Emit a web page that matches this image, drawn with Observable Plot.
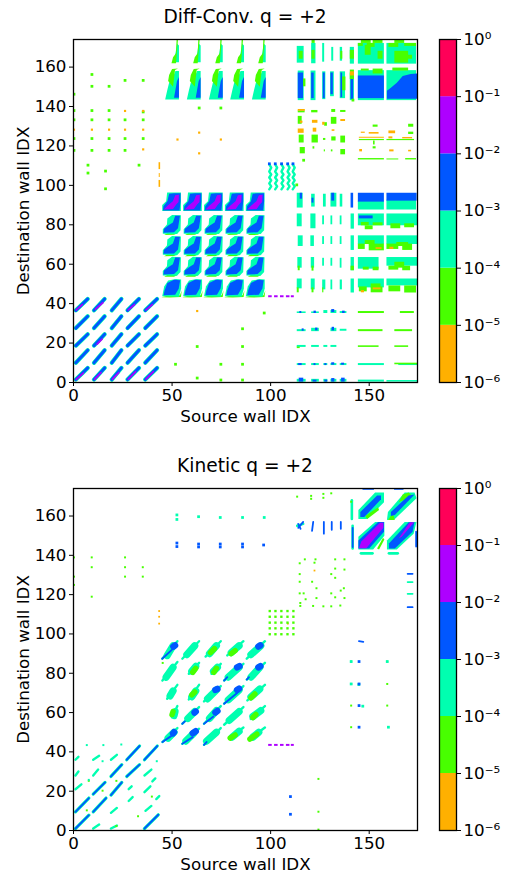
<!DOCTYPE html>
<html><head><meta charset="utf-8">
<script src="https://cdn.jsdelivr.net/npm/d3@7"></script>
<script src="https://cdn.jsdelivr.net/npm/@observablehq/plot@0.6"></script>
<style>
html,body{margin:0;padding:0;background:#fff;width:505px;height:875px;overflow:hidden}
#root{position:relative;width:505px;height:875px;font-family:"DejaVu Sans",sans-serif}
#root svg{position:absolute;background:transparent;overflow:visible}
.t{position:absolute;left:73px;width:344px;text-align:center;font-size:18.6px;color:#000;line-height:22px}
</style></head><body><div id="root"></div>
<script>
// colour bar
const levels=[1e-6,1e-5,1e-4,1e-3,1e-2,1e-1,1];
const levelLabels=["10⁻⁶","10⁻⁵","10⁻⁴","10⁻³","10⁻²","10⁻¹","10⁰"];
const bandColors=["#ffb000","#48ff00","#00ffb0","#0057ff","#ae00ff","#ff0058"];
const xTicks=[0,50,100,150];
const yTicks=[0,20,40,60,80,100,120,140,160];

// ---------- Diff-Conv. values, all in wall-index units ----------
// [x1,y1,x2,y2] boxes of the cyan band
const diffCyanBox=[
[114,143,117,158],[120.5,143,123,158],[126.4,143.5,128,157.6],[130.4,145,132.3,157.6],[135.3,144,138,157.6],[140.4,143,142.5,157],
[113.5,162,117,170.5],[120.8,161.7,123,172],[126.4,162.5,127.4,172],[131,163,132,170],[135.3,163,136.5,170],[140.4,161.5,142.5,170],
[144.5,161.5,157.7,172],[159,161.5,174,172],[144.5,143,157.7,158.2],[159,143,174,158.2],
[113.5,88.5,116.5,96],[120.8,89,122.6,95.5],[126.8,89,128.2,95.5],[130.6,89,133.6,96],[135.3,89,136.6,95.5],
[144.5,87.5,157.7,92],[159,87.5,174,92.5],
[113.5,79,116,85.5],[120.4,78,123,85.5],[126.4,80,127.3,84.5],[130.6,80,131.5,84.5],[135.3,80,136.2,84.5],[140.8,77.8,142.5,85.5],
[144.5,79.5,157.7,85.5],[159,79.5,174.5,85.5],
[114,69,116.5,74.4],[120.4,69,122.2,74.4],[126.4,70,127.3,74],[130.6,70,131.5,74],[135.3,70,136.2,74],[140.8,67,142.5,74.4],
[144.5,70,157.7,74.4],[159,70,174.5,74.4],
[113.8,58,116,63.4],[120.6,58,122.3,63.4],[126.4,59,127.3,63],[130.6,59,131.5,63],[135.3,58,136.2,63],[140.8,56.7,142.5,63.4],
[144.5,57.5,155,63.4],[159,59,174.5,63.4],
[113.5,47.5,116,52.5],[120.6,47,122.6,52.5],[126.4,47,128,52],[130.6,47,131.5,52],[135.3,47,136.4,52],[140.8,45.4,142.5,52.5],
[144.5,48,157.7,52.5],[159,49,174.5,52.5],
[113.5,35,118,35.8],[120.8,35,124.7,35.8],[127,35,129,36.5],[130.6,35,133.6,36.5],[135.3,35,138.7,36],
[113.5,25.8,118,26.8],[120.8,25.8,124.7,27.5],[130.6,25.8,133.6,27.5],[135.3,26,138.7,27],
[113.5,17.8,118,18.8],[120.8,17.8,124.7,18.8],[127,17.8,129,18.8],[130.6,17.8,133.6,18.8],
[113.5,8.6,118,9.6],[120.8,8.6,124.7,9.6],[127,8.6,129,9.6],[130.6,8.6,133.6,9.6],[135.3,8.6,138.7,9.6],[144.5,8.6,157.7,9.6],[165,8.6,174.5,9.6],
[113.5,0.2,118,1.6],[120.8,0.2,124.7,1.6],[127,0.2,129,1.6],[130.6,0.2,133.6,1.6],[135.3,0.2,138.7,1.6],[144.5,0.2,157.7,1.2],[159,0.2,174.5,1]];
const diffGreenBox=[
[116,150,117.9,154],[114.5,164,116.5,168],[121,164,122.6,168.5],[121,172,122.6,174],[136.5,148,138.2,155],[135.6,164,136.6,168],[140.4,164,142.5,168.5],
[140.4,153.7,142.5,158.5],[144.5,170.5,147,172],[149,170,153,172],[146,172,151,173.7],[152,172,157,174],[160,170,165,172],[168,170.5,174,172],[163,172,168,174],
[146,158,150,159],[152,156.5,157,159],[162,158,170,159.5],
[148,166,151,171],[163,162,170,168],[154.5,164,157,168],[166,164,172,166],
[146,79.5,150,81.2],[152,79.5,157,81],[161,78,166,80.5],[168,78.5,173,80.5],[148,77.5,152,79.5],
[144.5,67.5,148,70.2],[150,66.8,157.7,70.2],[159,67.5,165,70.2],[167,67,172,70.2],[148,70,153,72],[164,69,170,71],
[147,57,150,58.5],[152,56.7,155,58.5],[160,57,165,59],[167,56.7,171,59],[163,58,168,61],[140.8,56.7,142.5,59],[114,56.7,115,59],[121,56.5,122,59],
[145,46,149,48.5],[151,45.5,157,48.5],[160,46,166,49],[168,45.4,174,49],[151,48,156,50],[113.5,45.5,114.5,48],[121,45.5,122,48],[126.4,45.5,127,48],
[144.5,35,157.7,36],[165.8,35,172.9,36],[144.5,25.8,157,26.8],[163,25.8,172,26.8],[144.5,17.8,155,18.6],[163,17.8,170,18.6],[163,9,174.5,9.8],[113.5,17.2,115,18],
// scattered block above the right-hand columns
[114,136.8,117.5,137.8],[120.8,136.8,124,138],[131,137,133,138.5],[135.5,137,138.2,138],
[114,131,116,135],[130.8,131,133.6,134.5],[127.4,130,128.8,131.8],[114.5,121.5,117,125.5],[121,121.5,124.2,125.5],[126.8,122.8,128,123.8],[131,122.5,133.2,124.6],[135.6,121.5,138,125],
[115,116,117.6,119.2],[135.6,115.5,138,118.2],[121.5,118.4,122.4,119.6],[127.2,117,127.8,118],[130.8,117,131.6,118],
[144.5,112.9,157.7,113.6],[159,112.9,165,113.4],[168.5,112.9,174,113.6],[152,129.5,154.5,130.6],[152,118.5,153.5,119.6],[170,129.5,172.6,131],[170,125.8,172.6,127],[152.2,120.5,153,122.5],[145,122.7,157.7,123.3],[159,122.7,173,123.3]];
const diffOrangeBox=[
[114,137.6,117.6,138.5],[115,131.5,116.4,132.6],[114,126.4,117,128.6],[121.2,131.5,124,133],[121.6,127,123.4,129],[126.4,130.5,127.6,132],[135.6,132.4,138,133.4],[131.2,127.4,132.6,128.2],
[146,126.4,148,127],[150,126,155,126.8],[145,123.9,157.7,124.4],[145.2,117,146.6,118.2],[160,126.2,163.4,127.6],[160,123.6,162,124.6],[167,123.6,172,124.3],[160.4,117,162.6,118],[170,117,171.5,117.8],
[140.5,155.5,142.5,157.6],[43.4,108,44.2,111.5],[43.4,99,44.2,102.5],[43.5,104,44,106],
[152,47,156,48],[153.5,67.5,156.5,68.4],[160.5,67.5,162.5,68.6],[146,45.5,147.6,46.6]];
const diffBlueBox=[
[114,144,116.7,157],[120.8,144,122.1,157],[126.7,144,127.7,157],[130.6,146,131.8,157],[135.7,144.5,136.5,157],[140.8,143.6,142.1,153.7],
[144.5,144,157.7,155.5],
[115,93,116.2,96],[121,91,122,93.5],[131,92,132.5,96],[140.8,88.5,142.1,96],[144.5,91.5,157.7,96],[159,92,174.3,96],
[114.8,35,115.8,36],[122,35,123.2,36.2],[131,35.5,132.5,37],[136.5,35,137.8,36.2],
[116,26,117,27.2],[122.8,26.2,124,27.6],[131.2,26.2,132.4,28],
[114.2,8.6,116,9.6],[122,8.6,123,9.6],[127.5,8.6,128.5,9.6],[131,8.8,132.5,10],[136,8.8,137.5,9.8],
[114.5,0.2,116.8,2.2],[121.5,0.2,123.5,1.2],[127.5,0.2,129,1.2],[131,0.2,132.6,2],[136,0.2,137.8,2.2],
[145,83,152,84.5]];
// polygons, drawn with the lines mark: flat x,y lists
const diffBigBlue=[[159,144,174.5,144,174.5,156.8,171,156.5,167,155.5,164,152,161,149.5,159,148]];
const blockBColsX=[45,55.6,66.2,76.8,87.4];
const diffLowerCols=[53.5,64.5,75.7,86.5,97.5];
// shape of the wedges above block B, measured from each column's right edge
const wedgeCyan=[-7,143.5,0,143.5,0,158,-1.8,158,-3,155,-5,152,-6,148];
const wedgeGreen=[-5.5,153,-3,150,-2,158.5,-.5,159.3,-3.5,159,-5,156];
const wedgeBlue=[-2.5,144.5,0,144.5,0,155,-1,153];
const upperCyan=[-2.6,162.5,0,162.5,0,171,-1,172,-1.6,168];
const upperGreen=[-3.8,162,-1.5,162,-.5,174,-1.2,174,-1.5,167,-3,165];
// 5x5 tiles of block B: shape measured from each tile's lower-left corner
const tileTopRowY=87, tileOvalRowY=43.7, tileMidRowsY=[54,64.5,75.2];
const ovalCyan=[0,0,8.5,-.2,9.6,4,9.6,8.6,7,8.8,3,8,1,5];
const ovalGreen=[-.4,-.4,4,-.6,9.5,-.3,9.9,3,9,.6,3,.4];
const ovalBlue=[.7,.6,6.6,.8,8.4,4,9.1,8.2,6,8.4,2.6,6.8,1.2,3];
const midCyan=[.3,.3,7.5,.1,9.3,2,9.5,9.6,5,9.8,2.6,8,2.4,5,.3,2.6];
const midGreen=[1,-.4,6,-.3,8,.6,3,.8];
const midBlue=[.6,.8,6,1,8,3,9,9.4,6.6,9.4,5.4,6,3.2,4.6,.9,2.8];
const topCyan=[0,0,9.5,0,9.5,9.4,2.5,9.4,2,5,0,3];
const topBlue=[.4,.3,8.8,.3,9.3,5,9.3,9,6,9,3.5,8.8,2.6,5,.6,2.4];
const topPurple=[.8,.7,5.5,1,7,3.2,8.3,4.6,8.5,8.2,6.6,8,5.4,5,2.8,2.8];
// diagonal streaks of block A: x1,y1,x2,y2
const diffStreaks=[
[1.2,1.5,7.2,7.4],[10.4,1.5,15.8,7.4],[19.4,1.5,24.3,7.4],[27.4,1.5,33.2,7.4],[36.4,1.5,42.4,7.4],
[1.2,10,7.2,16.4],[10.4,10,15.8,16.4],[19.4,10,24.3,16.4],[27.4,10,33.2,16.4],[36.4,10,42.4,16.4],
[1.2,18.7,7.2,24.5],[10.4,18.7,15.8,24.5],[19.4,18.7,24.3,24.5],[27.4,18.7,33.2,24.5],[36.4,18.7,42.4,24.5],
[1.2,27.6,7.2,33.6],[10.4,27.6,15.8,33.6],[19.4,27.6,24.3,33.6],[27.4,27.6,33.2,33.6],[36.4,27.6,42.4,33.6],
[1.2,36.6,7.2,42.4],[10.4,36.6,15.8,42.4],[19.4,36.6,24.3,42.4],[27.4,36.6,33.2,42.4],[36.4,36.6,42.4,42.4]];
const diffStreakPurple=[
[1.4,1.6,5,4.8],[10.8,1.7,14,5],[19.8,1.7,23,5],[27.8,1.7,31.5,5.5],[36.8,1.7,40.5,5.5],
[1.4,36.8,4.5,39.5],[11.2,37.2,15,40.5],[27.8,36.8,31,39.5],[36.8,36.8,40,39.5],[12,19.5,14.5,22]];
const diffDotsGreen=[
[.5,137.7],[.5,133],[.5,123.5],[.5,117.5],[.5,146],[9.6,137.7],[9.6,133],[9.6,123.5],[9.6,117.5],[9.6,156],[9.6,150],
[18.3,137.7],[18.3,133],[18.3,123.5],[18.3,117.5],[18.3,150],[26.4,133],[26.4,123.5],[26.4,117.5],[26.4,153],[35.6,133],[35.6,123.5],[35.6,153],[35.6,137],
[7.6,110],[7.6,106],[16.5,107],[33.5,110],[16.5,98],[64,139],[75,139],[113.5,100],[117,112.5],
[63,2],[75,1],[86,1],[52,9],[75,9],[86,9],[63,18],[86,18],[86,27],[97,35],[142,143]];
const diffDotsOrange=[[.5,128],[9.6,128],[18.3,128],[26.4,128],[35.6,128],[26.4,137.5],[35.6,137.5],[35.6,118],[53,123],[64,126.5],[75,123],[64,116],[63,36]];
// zigzag columns of the small central block
const diffZig=[
[99.3,110.7,100.3,109,99.3,107,100.3,105.5,99.3,104,100.3,102.5,99.3,101,100.3,99.5,99.3,98],
[102.3,110.7,103.3,109,102.3,107,103.3,105.5,102.3,104,103.3,102.5,102.3,101,103.3,99.5,102.3,98],
[105.5,110.7,106.5,109,105.5,107,106.5,105.5,105.5,104,106.5,102.5,105.5,101,106.5,99.5,105.5,98],
[108.6,110.7,109.6,109,108.6,107,109.6,105.5,108.6,104,109.6,102.5,108.6,101,109.6,99.5,108.6,98],
[111.2,110.7,112.2,109,111.2,107,112.2,105.5,111.2,104,112.2,102.5,111.2,101,112.2,99.5,111.2,98]];
const diffZigBlue=[[99.6,110.7],[102.6,110.7],[105.8,110.7],[108.9,110.7],[111.6,110.7]];
const dashes=[[99,100.8],[102,103.8],[105,106.8],[108,109.8],[110.5,112]];

// ---------- Kinetic values ----------
const kinCyanLong=[
[1,1,7.8,7.8],[36,1,43,8],[1,9.5,7.8,16.5],[10,9.5,16.5,16.5],[10,18.5,16,24.5],[19,18,24.5,24.5],[19,27.5,24.5,33.5],[27,27.5,33.5,33.5],[27,36,33.5,43],[36,36,42.5,43]];
const kinCyanShort=[
[10,1,13,3],[19,1,22,2.5],[19,9,22,11.5],[28,15,30,17],[36.5,10,39.5,12.5],[42,16,43.5,17.5],
[1,21,4,23.5],[28,21,29.5,22.5],[36,19.5,39,22.5],[40,25,41.5,26.5],
[1,28,2.5,30],[10,28,12.5,31],[36,28,39.5,31],[1,36,2.5,37.5],[10,36,13,38],[19,36,22,38.5],
[45.1,45,52.7,52.1],[55.2,44.1,63.7,51.8],[66.2,43.6,74.7,52.1],[78.9,46.7,86.2,52.4],[89.6,46.7,97.1,52.4],
[50,57.7,52.7,63.3],[55.2,54.3,63.7,62.8],[66.2,54.3,74.7,63.3],[76.4,53.8,86.2,62.8],[89.9,56.8,97.1,63.3],
[47.5,67,52.7,74.1],[58.5,66.7,63.7,74.1],[66.2,65.7,74.7,73.5],[76.4,64.5,86.2,73.5],[88.2,66.2,97.1,74.1],
[45.1,76.3,52.7,85.7],[58.5,79.7,63.7,85.3],[70,79.7,74.7,84.8],[76.4,76.3,86.2,84.8],[87.9,76.8,97.1,85.3],
[45,87.4,52.7,96.3],[55.2,87.4,63.7,96.3],[67,88.5,74.7,96.3],[78,89.1,86.2,96.3],[87.9,87.4,97.1,96.3]];
const kinCyanFat=[
[48,47,51,50],[57,45.5,61,49.5],[67.5,45.5,72.5,50],[80.5,47.5,84,50.5],[91,47.5,94,50],
[51,58.5,51.5,60.5],[58,57,61.5,60.5],[69,57,72.5,61],[79,56,84,60.5],[91,58,95,61],
[49,68.5,50.5,71],[60,68,62,71],[68,67,72.5,71.5],[78.5,66.5,84,71.5],[90,68,94.5,72],
[47,78,50.5,83],[60,81,62,83.5],[71,81,73,83],[78.5,78,84,83],[90,78,94.5,83],
[47.5,89,50.5,94],[57.5,89.5,61.5,94],[69,90,72.5,94],[80,90.5,84,94],[90,89.5,95,94]];
const kinBlueThin=[
[1,1,7.8,7.8],[36,1,43,8],[1,9.5,7.8,16.5],[10,9.5,16.5,16.5],[10,18.5,16,24.5],[19,18,24.5,24.5],[19,27.5,24.5,33.5],[27,27.5,33.5,33.5],[27,36,33.5,43],[36,36,42.5,43],
[45.1,45,49.5,48],[55.2,44.1,60.5,47.5],[66.2,43.6,67.5,45],[66.2,54.3,71,58],[76.4,64.5,83,70],[55.2,54.3,56.5,55.5],[45,87.4,50,92],[76.4,76.3,78,78],[87.9,76.8,89,78]];
const kinBlueOval=[[50.5,49.4,51,50],[60.5,49.5,62,50.5],[61.4,60,62,60.5],[72,60,73,60.8],[72,71.5,73,72],[83,71.5,84,72.2],[83,83,84.2,83.6],[93.8,83,94.8,83.6],[50.7,93.6,51.5,94.2],[93.8,93.6,94.8,94.2]];
const kinGreenFat=[[89.5,46.5,93,49],[79.5,47,82,48.6],[69.5,90.5,71.5,92.5],[80,90,82,91.5],[50,59,50.5,60.5],[60,69,61.5,70.5],[60.5,80.5,62,82.5],[71.2,80.5,72.5,82.5],[90,67.5,92,69.5],[91,57.5,92.5,59]];
// the four large diagonal tiles as outlines
const kinBigCyan=[
[144.5,143,152,143,157.7,150,157.7,157,153,157,144.5,149.5],
[159,143,164,143,172.5,151,174,157,168,157,159,147.5],
[144.5,158.5,149,158.5,157.5,167,157.5,172,153,172,144.5,163],
[159,158,163,158.5,174,169,173,172,168,172,159.5,162]];
const kinBigGreen=[[149,158.5,155,163,154.5,164.5,148,160],[159.5,158,163,158,162,161.5],[165,167,172,170,170,172,167,171],[154,143.5,157,149,157.7,148,155,143]];
const kinBigBlue=[
[144.5,143.5,150,143.5,157.5,152,157.5,157,154.5,157,144.5,147.5],
[160,143.5,163,143.5,172,152,173,156.8,170,156.8,160,146],
[145.5,159.5,147.5,159.5,156,168.5,156,170.5,154,170.5,145.5,162],
[161,160,163,160.5,173,171,170,170.5,161,162]];
const kinBigPurple=[
[144.8,143.6,148.5,143.6,157.2,154,157.2,156.6,155.5,156.6,146,147],
[165,148.5,166.5,149.5,172.8,156.8,170.6,156.8]];
const kinSmallCyan=[[145.8,141,151.7,141],[160,141,164.5,141],[141.2,158.5,141.2,168],[141.6,143.5,141.6,155],[113.5,155,116.5,156]];
const kinSmallBlue=[[141.6,144.2,141.6,154],[114,156,115.2,153.5],[121,152.5,121.6,157],[127,151,127,157],[131,153,131,157],[135.6,153.5,135.6,157],[147,173.8,152,173.8],[163,173.8,167,173.8],[173.8,144.5,173.8,152],[169.5,130.6,172,130.6],[169.5,113.6,172,113.6],[144.8,96.3,147,96],[114,154,116.5,157]];
const kinCyanSmall2=[[169.5,126.4,172,126.4],[169.5,120.4,172,120.4]];
const kinDotsGreen=[
[.5,138.7],[9.5,138.7],[26.4,138.7],[9.5,133.7],[26.4,133.7],[35.4,133.7],[.5,128.9],[26.4,128.9],[35.4,128.9],[.5,124.7],[9.5,118.7],
[115,135.7],[117.6,137.7],[122.5,136],[123,137.7],[133,137.7],[137.7,137.7],[133,133],[137.7,132.5],[131,130.2],[133,128.3],[115,130.2],[115,126.3],[121.3,126.3],[123.5,123],[137.4,123],[135.8,121.8],[115,120.4],[117,120.4],[131,120.4],[133,118.4],[118,117.4],[123.5,118],[137.7,118],
[127,113.8],[131,113.8],[135.6,114.2],[121.8,114],[115.3,114],[115.3,115.5],[124.5,26],[124.5,9.3],[124.5,.2],[113.7,169.6],[120.8,170],[120.8,168.5],[127,171],[127,169],[131,171.3],[141.1,167],[141.1,85.7],[141.1,74.3],[141.1,63.3],[141.1,52.3],[159.4,74.3],[159.4,63.3],[159.4,85.7],
[8,25],[22,25],[45.5,85],[7,10],[15,20],[22,2],[33,7],[40,17]];
const kinDotsCyan=[[52.7,160.3],[52.7,158],[63.7,159.4],[74.7,159],[86,159],[97,159],[141.1,85.7],[159.4,85.7],[141.1,74.3],[160,52.3],[145,74],[147,63]];
const kinDotsBlue=[[52.7,144.2],[52.7,146],[63.7,144],[63.7,145.5],[74.7,144],[74.7,145.5],[86,144],[86,145.5],[96.7,145],[145.1,85.7],[145.1,74.3],[145.1,63.3],[145.1,52.3],[110.3,17],[110.3,8]];
const kinDotsTiny=[[7,43.2],[15.4,43.2],[24.5,43.5],[8,25.5],[15,35],[42.5,35]];
const kinDotsOrange=[[43.7,111.4],[43.7,108.5],[43.7,105],[122.5,132],[109,105]];
const kinGridX=[99.8,102.7,105.7,108.8,111.8], kinGridY=[111.4,108.5,105.5,102.6,99.6];

const num=l=>{const o=[];for(let i=0;i<l.length;i+=2)o.push([l[i],l[i+1]]);return o;};
function polys(list,color){ // filled outlines through the x and y scales
  const pts=list.flatMap((p,i)=>num(p).map(([x,y])=>({x,y,i})));
  return Plot.line(pts,{x:"x",y:"y",z:"i",fill:color,stroke:"none",clip:true});
}
const shift=(s,dx,dy)=>s.map((v,i)=>i%2?v+dy:v+dx);
const box=(l,c)=>Plot.rect(l,{x1:d=>d[0],y1:d=>d[1],x2:d=>d[2],y2:d=>d[3],fill:c,clip:true});
const dot=(l,c,h)=>Plot.rect(l,{x1:d=>d[0]-h,x2:d=>d[0]+h,y1:d=>d[1]-h,y2:d=>d[1]+h,fill:c,clip:true});
const seg=(l,c,w)=>Plot.link(l,{x1:d=>d[0],y1:d=>d[1],x2:d=>d[2],y2:d=>d[3],stroke:c,strokeWidth:w,strokeLinecap:"round",clip:true});
const [cO,cG,cC,cB,cP]=bandColors;

function tiles(shape,ys){return ys.flatMap(y=>blockBColsX.map(x=>shift(shape,x,y)));}
const diffMarks=[
  box(diffCyanBox,cC),
  polys(diffLowerCols.map(r=>shift(wedgeCyan,r,0)),cC),
  polys(diffLowerCols.map(r=>shift(upperCyan,r,0)),cC),
  polys(diffLowerCols.map(r=>shift(wedgeGreen,r,0)),cG),
  polys(diffLowerCols.map(r=>shift(upperGreen,r,0)),cG),
  box(diffGreenBox,cG),box(diffOrangeBox,cO),
  box(diffBlueBox,cB),
  polys(diffBigBlue,cB),
  polys(diffLowerCols.map(r=>shift(wedgeBlue,r,0)),cB),
  polys(tiles(ovalGreen,[tileOvalRowY]),cG),
  polys(tiles(midGreen,tileMidRowsY),cG),
  polys(tiles(ovalCyan,[tileOvalRowY]),cC),
  polys(tiles(midCyan,tileMidRowsY),cC),
  polys(tiles(topCyan,[tileTopRowY]),cC),
  polys(tiles(ovalBlue,[tileOvalRowY]),cB),
  polys(tiles(midBlue,tileMidRowsY),cB),
  polys(tiles(topBlue,[tileTopRowY]),cB),
  polys(tiles(topPurple,[tileTopRowY]),cP),
  seg(diffStreaks,cC,4.2),seg(diffStreaks,cB,3),seg(diffStreakPurple,cP,1.6),
  Plot.line(diffZig.flatMap((p,i)=>num(p).map(([x,y])=>({x,y,i}))),{x:"x",y:"y",z:"i",stroke:cC,strokeWidth:2.4,clip:true}),
  dot(diffZigBlue,cB,.7),
  dot(diffDotsGreen,cG,.7),dot(diffDotsOrange,cO,.55),
  Plot.rect(dashes,{x1:d=>d[0],x2:d=>d[1],y1:()=>43,y2:()=>44,fill:cP,clip:true})
];
const kinMarks=[
  seg(kinCyanLong,cC,3.2),seg(kinCyanShort,cC,2.4),seg(kinCyanFat,cC,7.2),
  seg(kinGreenFat,cG,5.5),
  seg(kinBlueThin,cB,1.9),seg(kinBlueOval,cB,6.5),
  polys(kinBigCyan,cC),polys(kinBigGreen,cG),polys(kinBigBlue,cB),polys(kinBigPurple,cP),
  seg(kinSmallCyan,cC,2.6),seg(kinSmallBlue,cB,1.8),seg(kinCyanSmall2,cC,1.8),
  dot(kinDotsGreen,cG,.5),dot(kinDotsCyan,cC,.7),dot(kinDotsBlue,cB,.7),dot(kinDotsTiny,cC,.5),dot(kinDotsOrange,cO,.45),
  dot(kinGridY.flatMap(y=>kinGridX.map(x=>[x,y])),cG,.6),
  Plot.rect(dashes,{x1:d=>d[0],x2:d=>d[1],y1:()=>42.8,y2:()=>43.8,fill:cP,clip:true})
];

const root=document.getElementById("root");
const textStyle={fontFamily:"DejaVu Sans",fontSize:"16.7px",color:"#000",background:"transparent"};
function panel(title,top,bottom,marks){
  const t=document.createElement("div");t.className="t";t.textContent=title;t.style.top=(top-33)+"px";root.appendChild(t);
  const svgTop=top-20, h=bottom-top+20+50;
  const p=Plot.plot({width:430,height:h,marginLeft:73,marginRight:13,marginTop:20,marginBottom:50,style:textStyle,
    x:{domain:[0,174.5]},y:{domain:[0,174]},
    marks:[...marks,Plot.frame({stroke:"#000",strokeWidth:1.3}),
      Plot.axisX({ticks:xTicks,tickSize:4,tickPadding:3,label:"Source wall IDX",labelAnchor:"center",labelArrow:"none",labelOffset:39,tickFormat:d=>d}),
      Plot.axisY({ticks:yTicks,tickSize:4,tickPadding:3,label:"Destination wall IDX",labelAnchor:"center",labelArrow:"none",labelOffset:56,tickFormat:d=>d})]});
  p.style.left="0";p.style.top=svgTop+"px";root.appendChild(p);
  const cb=Plot.plot({width:66,height:bottom-top+30,marginLeft:0,marginRight:49,marginTop:15,marginBottom:15,style:textStyle,
    x:{domain:[0,1],axis:null},y:{type:"log",domain:[1e-6,1]},
    marks:[Plot.rect(bandColors,{x1:0,x2:1,y1:(d,i)=>levels[i],y2:(d,i)=>levels[i+1],fill:d=>d}),
      Plot.frame({stroke:"#000",strokeWidth:1.3}),
      Plot.axisY({anchor:"right",ticks:levels,tickSize:4,tickPadding:3,label:null,tickFormat:d=>levelLabels[levels.indexOf(d)]})]});
  cb.style.left="439px";cb.style.top=(top-15)+"px";root.appendChild(cb);
}
panel("Diff-Conv. q = +2",39,382,diffMarks);
panel("Kinetic q = +2",488,830,kinMarks);
</script></body></html>
